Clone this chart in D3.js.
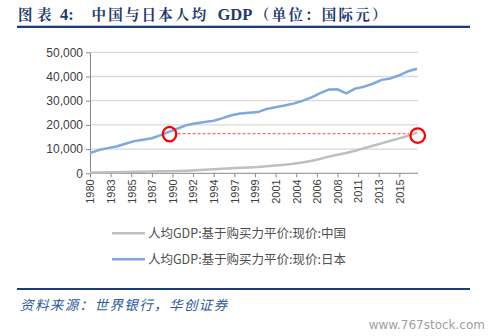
<!DOCTYPE html>
<html><head><meta charset="utf-8">
<script src="https://cdn.jsdelivr.net/npm/d3@7"></script>
<style>
body{margin:0;background:#fff;}
svg{display:block;}
</style></head>
<body>
<svg id="c" width="490" height="336"></svg>
<script>
const years = d3.range(1980, 2018);
const chinaGDP = [310,350,400,450,530,610,670,750,840,890,980,1090,1270,1470,1670,1860,2050,2250,2420,2610,2920,3200,3520,3940,4450,5080,5890,6880,7630,8370,9330,10380,11350,12370,13440,14450,15530,16810];
const japanGDP = [8400,9600,10400,11100,12200,13300,13900,14500,15800,17200,18600,20000,20700,21200,21700,22800,24000,24700,25000,25300,26600,27300,28000,28800,29900,31300,33000,34600,34700,33000,35000,35800,37000,38600,39200,40500,42200,43200];
const yTicks = [0,10000,20000,30000,40000,50000];
const xTickLabels = ["1980","1983","1985","1987","1990","1992","1994","1997","1999","2001","2004","2006","2008","2011","2013","2015"];
const seriesNames = ["人均GDP:基于购买力平价:现价:中国","人均GDP:基于购买力平价:现价:日本"];
const seriesColors = ["#BFBFBF","#7FA8DE"];
const markLevel = 16400;
const markYears = [1989, 2017];

const svg = d3.select("#c");
const x = d3.scaleLinear().domain([1980, 2017]).range([90, 417]);
const y = d3.scaleLinear().domain([0, 50000]).range([173.3, 52.3]);

// title
const cjk = "'Noto Serif CJK SC','Noto Sans CJK SC',serif";
const serif = "'Liberation Serif','Times New Roman',serif";
const tg = svg.append("g").attr("font-weight","bold").attr("fill","#1F3A6E");
function spaced(str, x0, pitch, font, size){
  Array.from(str).forEach((ch,i)=>{
    tg.append("text").attr("x",x0+i*pitch).attr("y",20).attr("font-family",font)
      .attr("font-size",size).text(ch);
  });
}
spaced("图表", 18, 19, cjk, 14.5);
tg.append("text").attr("x",60).attr("y",20).attr("font-family",serif).attr("font-size",16.5).text("4:");
spaced("中国与日本人均", 91.5, 16.7, cjk, 14.5);
tg.append("text").attr("x",217.5).attr("y",20).attr("font-family",serif).attr("font-size",16.5).text("GDP");
spaced("（单位：国际元）", 255, 16.7, cjk, 14.5);
svg.append("rect").attr("x",17).attr("y",25.7).attr("width",453).attr("height",2.3).attr("fill","#1F3A7A");

// gridlines
svg.append("g").selectAll("line").data(yTicks.slice(1)).join("line")
  .attr("x1",90).attr("x2",418).attr("y1",d=>y(d)).attr("y2",d=>y(d))
  .attr("stroke","#D9D9D9").attr("stroke-width",1.3);

// y axis
const yAx = svg.append("g").attr("transform","translate(90,0)")
  .call(d3.axisLeft(y).tickValues(yTicks).tickFormat(d3.format(",")).tickSize(4).tickSizeOuter(0));
yAx.select(".domain").attr("stroke","#898989");
yAx.selectAll(".tick line").attr("stroke","#898989");
yAx.selectAll("text").attr("font-family","'Liberation Sans',Arial,sans-serif").attr("font-size",12).attr("fill","#404040").attr("x",-7);

// x axis
const tickPos = xTickLabels.map((d,i)=>1980 + i*7/3);
const xAx = svg.append("g").attr("transform","translate(0,173.3)")
  .call(d3.axisBottom(x).tickValues(tickPos).tickFormat((d,i)=>xTickLabels[i]).tickSize(4).tickSizeOuter(0));
xAx.select(".domain").attr("stroke","#898989").attr("d","M90,0H418");
xAx.selectAll(".tick line").attr("stroke","#898989");
xAx.selectAll("text").attr("font-family","'Liberation Sans',Arial,sans-serif").attr("font-size",11).attr("fill","#404040")
  .attr("transform","rotate(-90)").attr("text-anchor","end").attr("x",-6).attr("y",0).attr("dy","0.35em");

// lines
const line = d3.line().x((d,i)=>x(years[i])).y(d=>y(d));
[chinaGDP, japanGDP].forEach((s,k)=>{
  svg.append("path").datum(s).attr("d",line).attr("fill","none")
    .attr("stroke",seriesColors[k]).attr("stroke-width",2.5).attr("stroke-linejoin","round");
});

// annotations
svg.append("line").attr("x1",x(markYears[0])+8).attr("x2",x(markYears[1])-8)
  .attr("y1",y(markLevel)).attr("y2",y(markLevel))
  .attr("stroke","#FF6B6B").attr("stroke-width",1.2).attr("stroke-dasharray","3,2");
svg.append("ellipse").attr("cx",x(markYears[0])).attr("cy",y(markLevel)+0.5).attr("rx",6.7).attr("ry",7.3)
  .attr("fill","none").attr("stroke","#FF0000").attr("stroke-width",2.3);
svg.append("ellipse").attr("cx",x(markYears[1])+0.7).attr("cy",y(markLevel)+2).attr("rx",7.3).attr("ry",7.3)
  .attr("fill","none").attr("stroke","#FF0000").attr("stroke-width",2.3);

// legend
seriesNames.forEach((n,k)=>{
  const ly = 233.3 + k*26;
  svg.append("line").attr("x1",112).attr("x2",145).attr("y1",ly).attr("y2",ly)
    .attr("stroke",seriesColors[k]).attr("stroke-width",2.5);
  svg.append("text").attr("x",148).attr("y",ly).attr("dy","0.35em")
    .attr("font-family","'Noto Sans CJK SC',sans-serif").attr("font-size",12.5).attr("fill","#505050").text(n);
});

// footer
svg.append("rect").attr("x",17).attr("y",288).attr("width",453).attr("height",2).attr("fill","#1F3A7A");
svg.append("text").attr("x",20).attr("y",309.5)
  .attr("font-family","'Noto Sans CJK SC',sans-serif").attr("font-style","italic")
  .attr("font-size",13.5).attr("letter-spacing",1.4).attr("fill","#2E5A9E").text("资料来源：世界银行，华创证券");
svg.append("text").attr("x",485).attr("y",329).attr("text-anchor","end")
  .attr("font-family","'DejaVu Sans',sans-serif").attr("font-size",12).attr("fill","#A0A0A0").text("www.767stock.com");
</script>
</body></html>
